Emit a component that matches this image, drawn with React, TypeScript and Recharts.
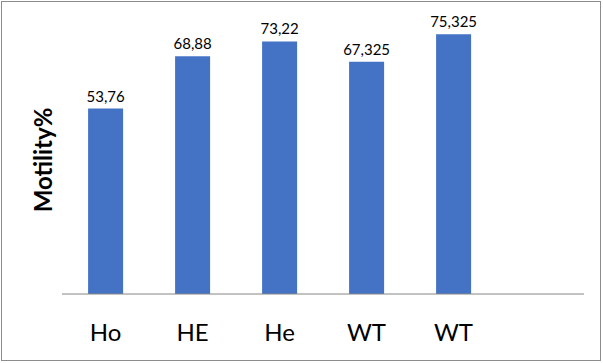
import { BarChart, Bar, XAxis, YAxis, LabelList } from 'recharts'

// last slot is empty in the original sheet
const categories = ['Ho', 'HE', 'He', 'WT', 'WT', '']
const motility = [53.76, 68.88, 73.22, 67.325, 75.325, null]

const data = categories.map((name, i) => ({ name, motility: motility[i] }))

const fmt = (v: any) => (v == null ? '' : String(v).replace('.', ','))

const YTitle = ({ viewBox }: any) => {
  const cx = viewBox.x + viewBox.width / 2 + 11
  const cy = viewBox.y + viewBox.height / 2 + 4
  return (
    <text
      x={cx}
      y={cy}
      transform={`rotate(-90, ${cx}, ${cy})`}
      textAnchor="middle"
      dominantBaseline="central"
      fontFamily="Lato, 'Open Sans', sans-serif"
      fontWeight="bold"
      fontSize={24}
      fill="#000"
    >
      Motility%
    </text>
  )
}

export default function App() {
  return (
    <div style={{ position: 'absolute', left: 0, top: 0, width: 603, height: 363, background: '#fff' }}>
      <div
        style={{
          position: 'absolute',
          left: 1,
          top: 1,
          width: 598,
          height: 358,
          border: '1px solid #8c8c8c',
        }}
      />
      <BarChart
        width={603}
        height={363}
        data={data}
        margin={{ top: 18, right: 19, left: 0, bottom: 19 }}
        barCategoryGap="30%"
        style={{ position: 'absolute', left: 0, top: 0 }}
      >
        <YAxis
          width={62}
          domain={[0, 80]}
          tick={false}
          axisLine={false}
          tickLine={false}
          label={{ content: <YTitle /> }}
        />
        <XAxis
          dataKey="name"
          height={50}
          axisLine={{ stroke: '#868686' }}
          tickLine={false}
          tickSize={0}
          tickMargin={30}
          interval={0}
          tick={{ fill: '#000', fontSize: 24, fontFamily: "Lato, 'Open Sans', sans-serif" }}
        />
        <Bar dataKey="motility" fill="#4472C4" isAnimationActive={false}>
          <LabelList
            dataKey="motility"
            position="top"
            offset={7}
            formatter={fmt}
            style={{ fill: '#000', fontSize: 15, fontFamily: "Lato, 'Open Sans', sans-serif" }}
          />
        </Bar>
      </BarChart>
    </div>
  )
}
